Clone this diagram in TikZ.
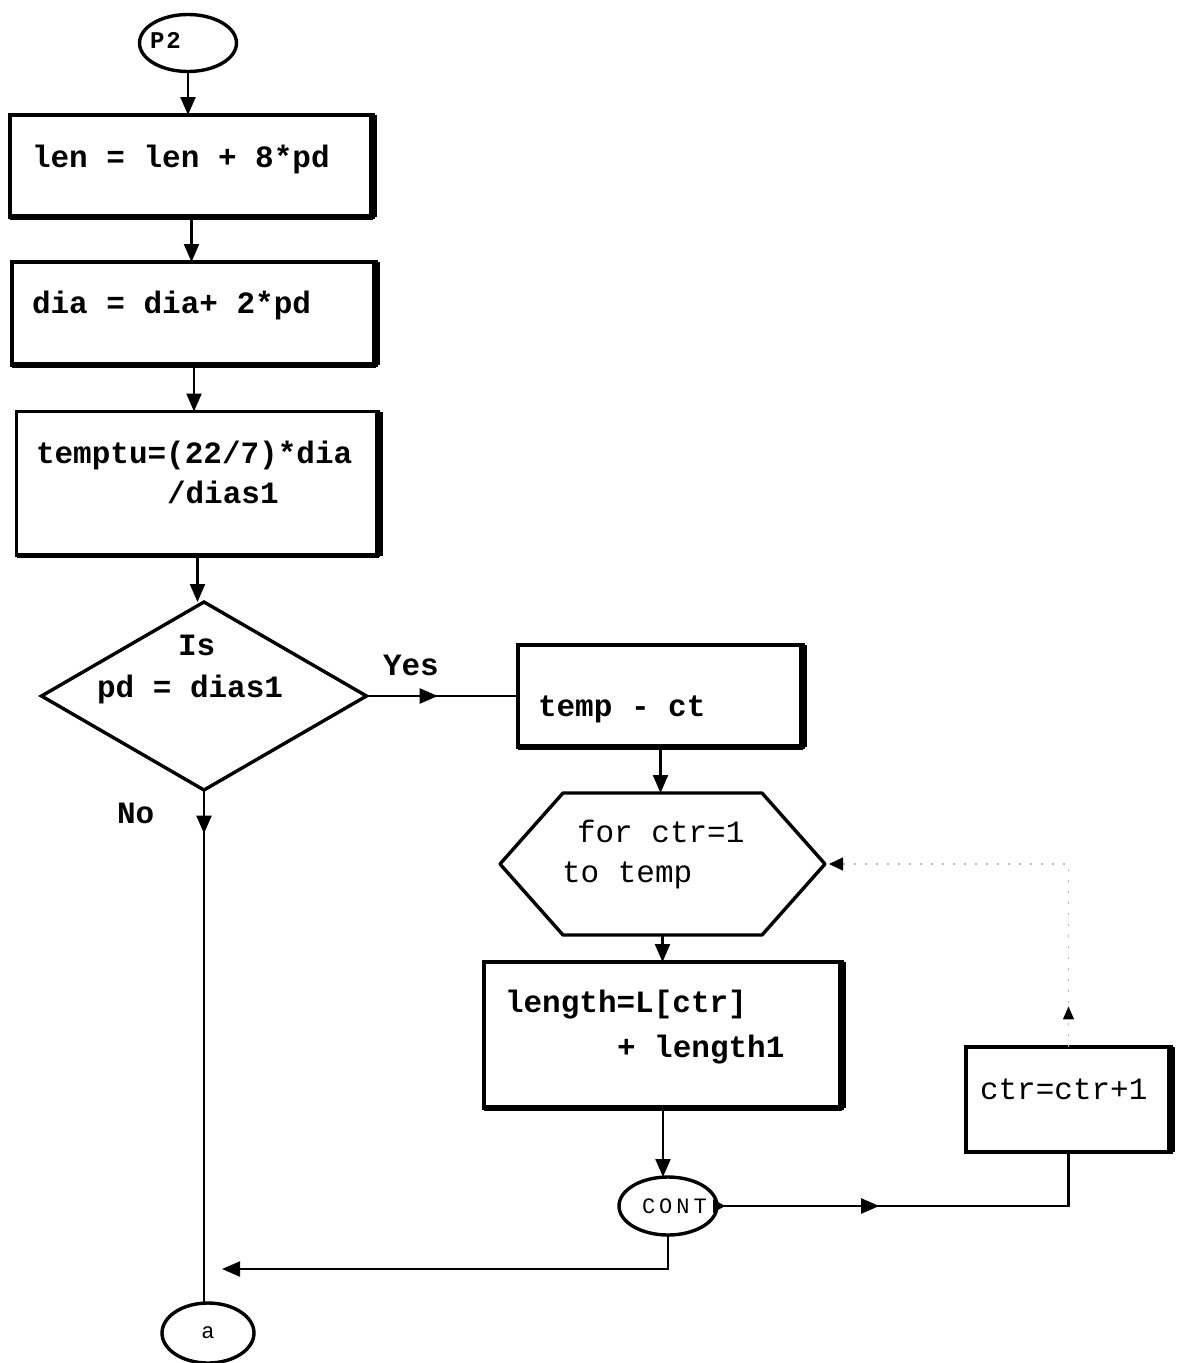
\documentclass[tikz,border=0pt]{standalone}
\usepackage{fontspec}
\usetikzlibrary{shapes.geometric,arrows.meta,decorations.markings}

\newfontfamily\chartmono{Liberation Mono}
\newcommand\boldtxt{\chartmono\bfseries\fontsize{31}{36}\selectfont}
\newcommand\plaintxt{\chartmono\fontsize{31}{36}\selectfont}
\newcommand\smalltxt{\chartmono\fontsize{22}{26}\selectfont}
\newcommand\termtxt{\chartmono\bfseries\fontsize{24}{28}\selectfont}

\begin{document}
\begin{tikzpicture}[x=1pt,y=-1pt,
  every node/.style={inner sep=0pt, outer sep=0pt},
  box/.style={draw, rectangle, line width=3.6pt},
  rimR/.style={line width=8pt},
  rimB/.style={line width=5.5pt},
  term/.style={draw, ellipse, line width=3.4pt},
  lbl/.style={anchor=base west, font=\boldtxt},
  lblplain/.style={anchor=base west, font=\plaintxt},
  link/.style={line width=2.2pt},
  flow/.style={link, -{Triangle[length=18pt,width=15pt]}},
  midtip/.style={postaction={decorate}, decoration={markings,
      mark=at position #1 with {\arrow{Triangle[length=18pt,width=15pt]}}}},
  dotlink/.style={draw=gray!55, line width=1.4pt, dash pattern=on 2pt off 9pt},
]
\fill[white] (0,0) rectangle (1177,1363);
\useasboundingbox (0,0) rectangle (1177,1363);

% terminals
\node[term, minimum width=97pt, minimum height=57pt] (p2) at (188,43) {};
\node[anchor=base west, font=\termtxt] (p2txt) at (150,48) {P\kern2pt 2};

% process boxes of the main column
\node[box, minimum width=363pt, minimum height=102pt] (b1) at (191.5,166) {};
\node[box, minimum width=364pt, minimum height=103pt] (b2) at (194,313.5) {};
\node[box, minimum width=362pt, minimum height=144pt] (b3) at (197.5,483.5) {};
\foreach \n in {b1,b2,b3}{
  \draw[rimR] (\n.north east) -- (\n.south east);
  \draw[rimB] (\n.south west) -- (\n.south east);
}
\node[lbl] (b1txt) at (32,167) {len = len + 8*pd};
\node[lbl] (b2txt) at (32,313) {dia = dia+ 2*pd};
\node[lbl] (b3txtA) at (36,463) {temptu=(22/7)*dia};
\node[lbl] (b3txtB) at (167,503) {/dias1};

% decision
\node[draw, diamond, line width=3.4pt, minimum width=325pt, minimum height=188pt] (d) at (204,696) {};
\node[lbl] (dtxtA) at (178,655) {Is};
\node[lbl] (dtxtB) at (97,697) {pd = dias1};
\node[lbl] (yes) at (383,675) {Yes};
\node[lbl] (no) at (117,823) {No};

% loop branch
\node[box, minimum width=285pt, minimum height=102pt] (t) at (660.5,696) {};
\draw[rimR] (t.north east) -- (t.south east);
\draw[rimB] (t.south west) -- (t.south east);
\node[lbl] (ttxt) at (538,716) {temp - ct};

\node[minimum width=325pt, minimum height=142pt] (h) at (662.5,864) {};
\draw[line width=3.4pt, line join=round] (h.west) -- ([xshift=63pt]h.north west) -- ([xshift=-63pt]h.north east)
  -- (h.east) -- ([xshift=-63pt]h.south east) -- ([xshift=63pt]h.south west) -- cycle;
\node[lblplain] (htxtA) at (577,842) {for ctr=1};
\node[lblplain] (htxtB) at (562,882) {to temp};

\node[box, minimum width=358pt, minimum height=146pt] (L) at (663,1035) {};
\draw[rimR] (L.north east) -- (L.south east);
\draw[rimB] (L.south west) -- (L.south east);
\node[lbl] (LtxtA) at (505,1012) {length=L[ctr]};
\node[lbl] (LtxtB) at (617,1057) {+ length1};

\node[term, minimum width=98pt, minimum height=58pt] (c) at (668,1206) {};
\node[anchor=base west, font=\smalltxt] (ctxt) at (642,1213) {C\kern4pt O\kern4pt N\kern4pt T};

\node[box, minimum width=205pt, minimum height=105pt] (k) at (1068.5,1099.5) {};
\draw[rimR] (k.north east) -- (k.south east);
\node[lblplain] (ktxt) at (980,1099) {ctr=ctr+1};

\node[term, minimum width=92pt, minimum height=60pt] (a) at (208,1333) {};
\node[font=\smalltxt] (atxt) at (208,1333) {a};

% connectors
\draw[flow] (p2.south) -- (p2.south |- b1.north);
\draw[flow] (b1.south) -- (b1.south |- b2.north);
\draw[flow] (b2.south) -- (b2.south |- b3.north);
\draw[flow] (b3.south) -- (b3.south |- d.north);
\draw[link, midtip=0.47] (d.east) -- (t.west);
\draw[link, midtip=0.085] (d.south) -- (d.south |- a.north);
\draw[flow] (t.south) -- (t.south |- h.north);
\draw[flow] (h.south) -- (h.south |- L.north);
\draw[flow] (L.south) -- (L.south |- c.north);

\draw[link, postaction={decorate}, decoration={markings,
    mark=at position 0.02 with {\arrow{Triangle[length=12pt,width=13pt]}},
    mark=at position 0.40 with {\arrow{Triangle[length=18pt,width=15pt]}}}]
  (c.east) -| (k.south);

\coordinate (join) at (222,1269);
\draw[flow] (c.south) |- (join);

\draw[dotlink, postaction={decorate}, decoration={markings,
    mark=at position 0.095 with {\arrow{Triangle[length=13pt,width=11pt,color=black]}}},
    -{Triangle[length=14pt,width=13pt,color=black]}, shorten >=4pt]
  (k.north) |- (h.east);
\end{tikzpicture}
\end{document}
